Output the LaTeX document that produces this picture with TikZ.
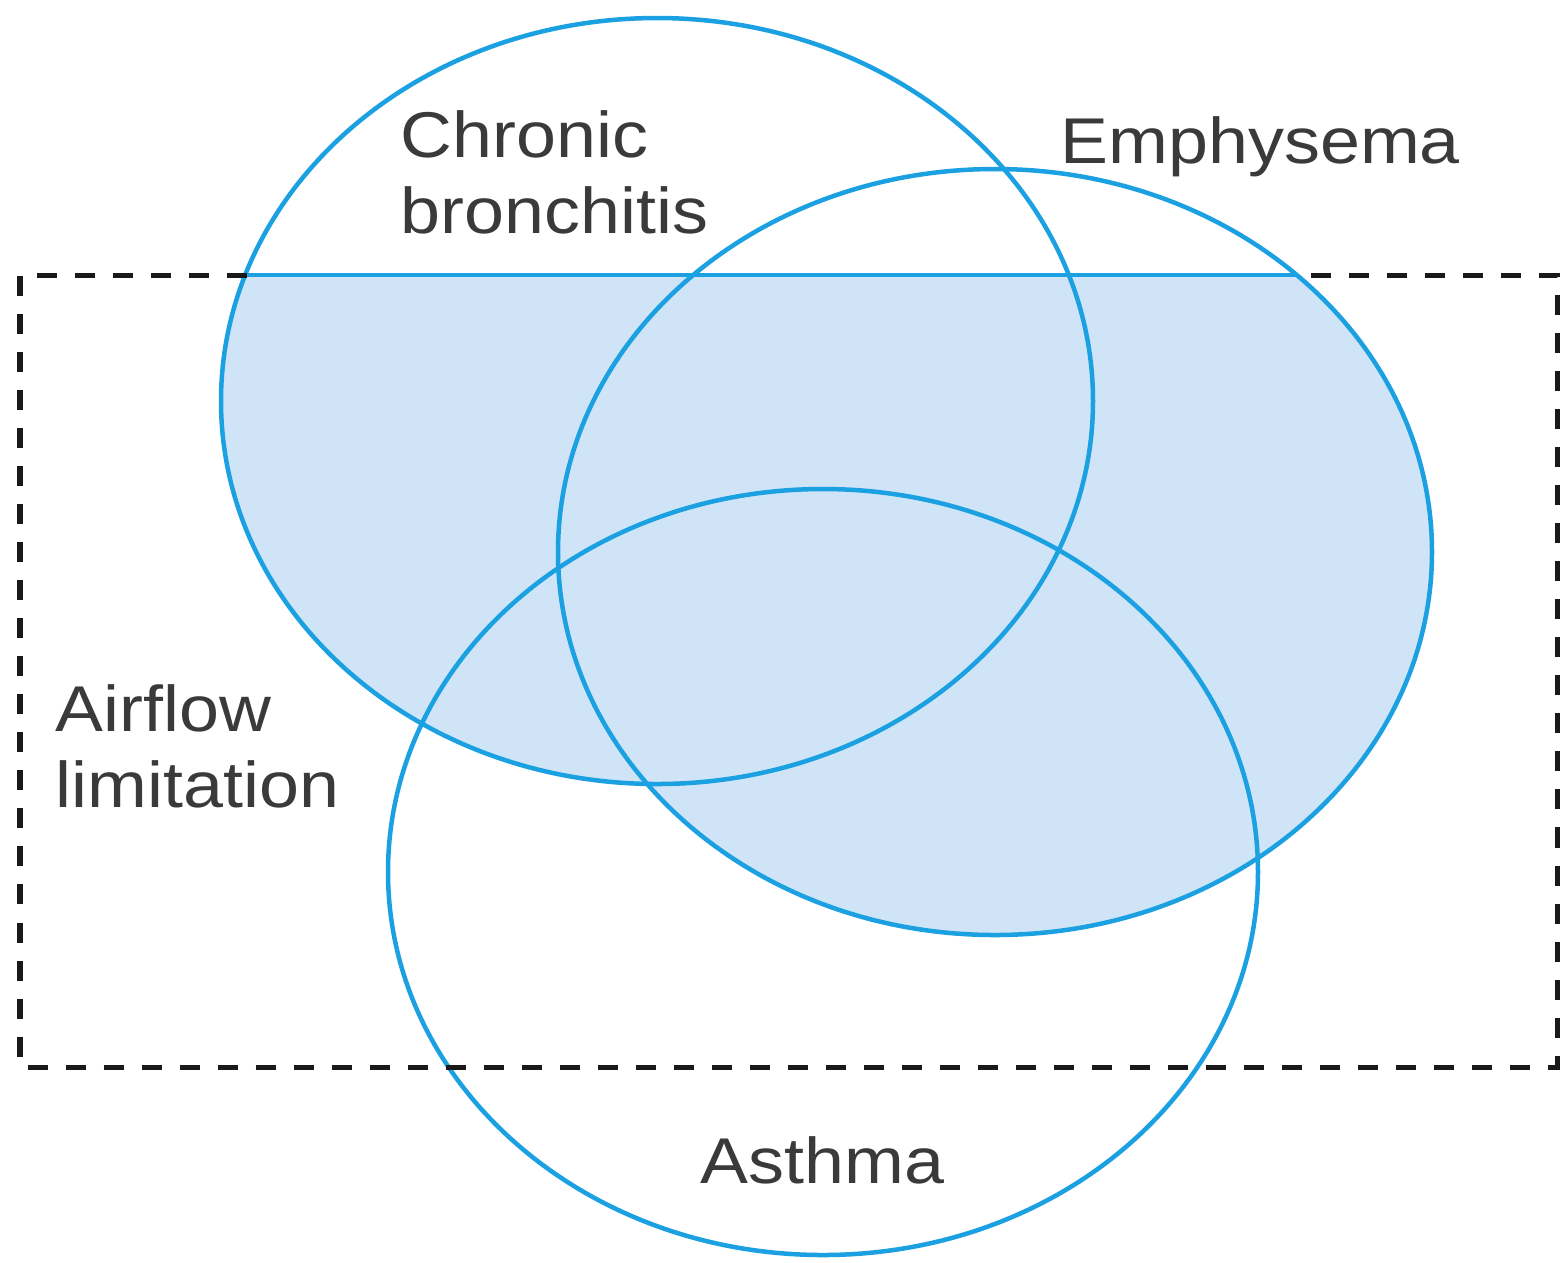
\documentclass[tikz,border=0pt]{standalone}
\usepackage{fontspec}
\setmainfont{Liberation Sans}
\definecolor{vblue}{RGB}{27,160,226}
\definecolor{vfill}{RGB}{207,228,246}
\definecolor{vtext}{RGB}{58,58,58}
\definecolor{vdash}{RGB}{25,25,25}
\tikzset{
  vline/.style={draw=vblue, line width=0.045cm},
  vfillst/.style={fill=vfill},
  dashrect/.style={draw=vdash, line width=0.05cm, dash pattern=on 0.2cm off 0.18cm},
  lbl/.style={font=\fontsize{18.4pt}{21.6pt}\selectfont, text=vtext, inner sep=0pt,
     align=left, anchor=base west, xscale=1.11, transform shape},
}
\begin{document}
\begin{tikzpicture}[x=0.01cm,y=-0.01cm]
\useasboundingbox (0,0) rectangle (1566,1262);
\coordinate (cb) at (657,401);
\coordinate (em) at (995,552);
\coordinate (as) at (823,872);
\coordinate (tl) at (247,275);
\coordinate (tr) at (1297,275);
% shaded region: (CB or Emph) within the box
\begin{scope}
  \clip (20,275) rectangle (1557,1067);
  \fill[vfillst] (cb) ellipse [x radius=436, y radius=383];
  \fill[vfillst] (em) ellipse [x radius=437, y radius=383];
\end{scope}
% top edge of shaded region
\begin{scope}
  \clip (cb) ellipse [x radius=436, y radius=383];
  \draw[vline] (0,275) -- (1566,275);
\end{scope}
\begin{scope}
  \clip (em) ellipse [x radius=437, y radius=383];
  \draw[vline] (0,275) -- (1566,275);
\end{scope}
% ellipses
\draw[vline] (cb) ellipse [x radius=436, y radius=383];
\draw[vline] (em) ellipse [x radius=437, y radius=383];
\draw[vline] (as) ellipse [x radius=435, y radius=383];
% dashed box
\draw[dashrect] (tl) -- (20,275) -- (20,1067) -- (1557,1067) -- (1557,275) -- (tr);
% labels (base anchor = baseline of last line)
\node[lbl] (lcb) at (400,233) {Chronic\\bronchitis};
\node[lbl] (lem) at (1060,163) {Emphysema};
\node[lbl] (laf) at (55,807) {Airflow\\limitation};
\node[lbl] (las) at (700,1183) {Asthma};
\end{tikzpicture}
\end{document}
